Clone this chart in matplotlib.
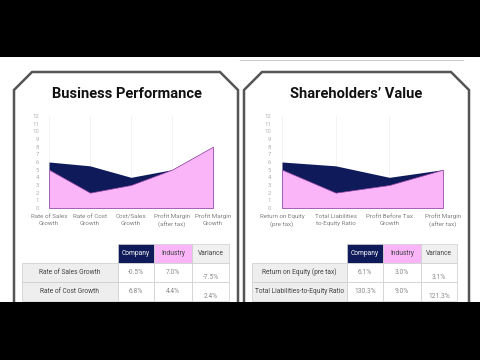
import matplotlib.pyplot as plt
from matplotlib.patches import Rectangle, Polygon

plt.rcParams['font.family'] = ['Roboto', 'DejaVu Sans']

# chart data
left_cats = ["Rate of Sales\nGrowth", "Rate of Cost\nGrowth", "Cost/Sales\nGrowth",
             "Profit Margin\n(after tax)", "Profit Margin\nGrowth"]
left_company = [6, 5.5, 4, 5, 8]
left_industry = [5, 2, 3, 5, 8]

right_cats = ["Return on Equity\n(pre tax)", "Total Liabilities\nto-Equity Ratio",
              "Profit Before Tax\nGrowth", "Profit Margin\n(after tax)"]
right_company = [6, 5.5, 4, 5]
right_industry = [5, 2, 3, 5]

# table data
left_rows = ["Rate of Sales Growth", "Rate of Cost Growth"]
left_tab_company = ["-0.5%", "6.8%"]
left_tab_industry = ["7.0%", "4.4%"]
left_tab_variance = ["-7.5%", "2.4%"]

right_rows = ["Return on Equity (pre tax)", "Total Liabilities-to-Equity Ratio"]
right_tab_company = ["6.1%", "130.3%"]
right_tab_industry = ["3.0%", "9.0%"]
right_tab_variance = ["3.1%", "121.3%"]

NAVY = "#0f1a5a"
PINK = "#fab4f8"
EDGE = "#9a4aa6"
FRAME = "#555555"

W, H = 480, 360
fig = plt.figure(figsize=(4.8, 3.6), dpi=100)
bg = fig.add_axes([0, 0, 1, 1])
bg.set_xlim(0, W)
bg.set_ylim(H, 0)
bg.axis("off")


def frame(x0, x1, top=72, cut=18, bottom=320):
    pts = [(x0, bottom), (x0, top + cut), (x0 + cut, top), (x1 - cut, top),
           (x1, top + cut), (x1, bottom)]
    bg.add_patch(Polygon(pts, closed=False, fill=False, edgecolor=FRAME, lw=1.8))


frame(14, 238)
frame(244, 469)
bg.plot([240, 463], [60, 60], color="#cccccc", lw=0.8)

bg.text(127, 94, "Business Performance", ha="center", va="center",
        fontsize=10.5, fontweight="bold", color="#111111")
bg.text(356, 94, "Shareholders\u2019 Value", ha="center", va="center",
        fontsize=10.5, fontweight="bold", color="#111111")


def chart(left_px, right_px, ylab_pad, cats, company, industry):
    ax = fig.add_axes([left_px / W, (H - 208) / H, (right_px - left_px) / W, 92 / H])
    x = list(range(len(cats)))
    ax.fill_between(x, 0, company, color=NAVY, lw=0)
    ax.fill_between(x, 0, industry, facecolor=PINK, edgecolor=EDGE, lw=0.5)
    ax.set_xlim(0, len(cats) - 1)
    ax.set_ylim(0, 12)
    ax.set_yticks(range(13))
    ax.set_xticks(x)
    ax.set_xticklabels(cats, fontsize=4.5, color="#808080", linespacing=1.5)
    ax.tick_params(axis="y", length=0, labelsize=4.3, labelcolor="#b0b0b0", pad=ylab_pad)
    ax.tick_params(axis="x", length=0, pad=4)
    ax.grid(axis="x", color="#f2f2f2", lw=0.6)
    ax.set_axisbelow(True)
    for s in ax.spines.values():
        s.set_visible(False)
    ax.patch.set_alpha(0)


chart(49, 213, 7, left_cats, left_company, left_industry)
chart(282, 443, 8, right_cats, right_company, right_industry)


def table(cols, rows, comp, ind, var):
    lab0, c0, c1, c2, c3 = cols
    hy0, hy1 = 244, 263
    row_y = [263, 282, 301]
    # header
    bg.add_patch(Rectangle((c0, hy0), c1 - c0, hy1 - hy0, facecolor=NAVY, edgecolor="#cccccc", lw=0.5))
    bg.add_patch(Rectangle((c1, hy0), c2 - c1, hy1 - hy0, facecolor=PINK, edgecolor="#cccccc", lw=0.5))
    bg.add_patch(Rectangle((c2, hy0), c3 - c2, hy1 - hy0, facecolor="#f0f0f0", edgecolor="#cccccc", lw=0.5))
    bg.text((c0 + c1) / 2, 253.5, "Company", ha="center", va="center", fontsize=4.8, color="white")
    bg.text((c1 + c2) / 2, 253.5, "Industry", ha="center", va="center", fontsize=4.8, color="#444444")
    bg.text((c2 + c3) / 2, 253.5, "Variance", ha="center", va="center", fontsize=4.8, color="#444444")
    for i, name in enumerate(rows):
        y0 = row_y[i]
        y1 = row_y[i + 1]
        bg.add_patch(Rectangle((lab0, y0), c0 - lab0, y1 - y0, facecolor="#eeeeee", edgecolor="#cccccc", lw=0.5))
        for a, b in [(c0, c1), (c1, c2), (c2, c3)]:
            bg.add_patch(Rectangle((a, y0), b - a, y1 - y0, facecolor="white", edgecolor="#cccccc", lw=0.5))
        ym = (y0 + y1) / 2
        bg.text((lab0 + c0) / 2, ym, name, ha="center", va="center", fontsize=4.8, color="#444444")
        bg.text((c0 + c1) / 2, ym, comp[i], ha="center", va="center", fontsize=4.8, color="#888888")
        bg.text((c1 + c2) / 2, ym, ind[i], ha="center", va="center", fontsize=4.8, color="#888888")
        bg.text((c2 + c3) / 2, ym + 5, var[i], ha="center", va="center", fontsize=4.8, color="#888888")


table((22, 118, 154, 192, 229), left_rows, left_tab_company, left_tab_industry, left_tab_variance)
table((252, 347, 383, 421, 457), right_rows, right_tab_company, right_tab_industry, right_tab_variance)

# video letterbox bands
bg.add_patch(Rectangle((0, 0), W, 57, facecolor="black", edgecolor="none", zorder=10))
bg.add_patch(Rectangle((0, 302), W, 58, facecolor="black", edgecolor="none", zorder=10))

fig.savefig("out.png", dpi=100)
